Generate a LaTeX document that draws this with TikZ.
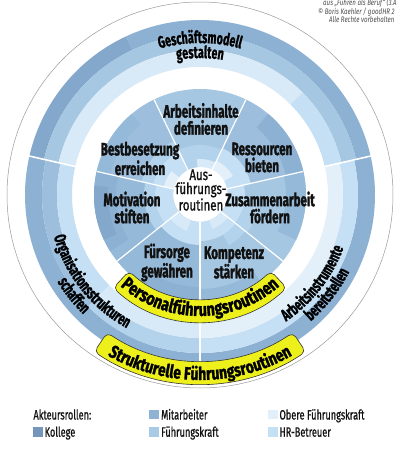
\documentclass[tikz,border=0pt]{standalone}
\usepackage{fontspec}
\setmainfont{Fira Sans}
\newfontfamily\cfb{Fira Sans}[FakeStretch=0.645,FakeBold=1.6]
\newfontfamily\cfn{Fira Sans}[FakeStretch=0.635,FakeBold=1.3]
\newfontfamily\cfw{Fira Sans}[FakeStretch=0.78,FakeBold=1.6]
\newfontfamily\cfl{Fira Sans}[FakeStretch=0.68,FakeBold=0.8]
\newfontfamily\cfc{Fira Sans}[FakeStretch=0.74,FakeBold=1.0]
\newfontfamily\cfi{Fira Sans}[FakeStretch=0.77]
\usetikzlibrary{decorations.text}
\definecolor{kol}{HTML}{7496BC}
\definecolor{mit}{HTML}{90B3D3}
\definecolor{fk}{HTML}{A8CBE5}
\definecolor{ofk}{HTML}{E0EFFA}
\definecolor{hr}{HTML}{C4E0F5}
\definecolor{dA}{HTML}{84A8CC}
\definecolor{dB}{HTML}{8DB1D3}
\definecolor{dC}{HTML}{95B9D8}
\definecolor{dD}{HTML}{9DBFDD}
\definecolor{dE}{HTML}{A5C7E2}
\definecolor{dF}{HTML}{B3D2EB}
\definecolor{dG}{HTML}{C5E0F4}
\definecolor{dH}{HTML}{D8EAF8}
\definecolor{dI}{HTML}{E3F0FA}
\definecolor{ylw}{HTML}{EEF01C}
\definecolor{txt}{HTML}{111111}
\newcommand\ringseg[5]{\fill[#5] (#3:#2pt) arc[start angle=#3,end angle=#4,radius=#2pt] -- (#4:#1pt) arc[start angle=#4,end angle=#3,radius=#1pt] -- cycle;}
\newcommand\lblfont{\cfb\bfseries\fontsize{18}{17}\selectfont}
\newcommand\bandfont{\cfn\bfseries\fontsize{16.8}{16.8}\selectfont}
\newcommand\yfont{\cfw\bfseries\fontsize{18.5}{18.5}\selectfont}
\newcommand\yfontb{\cfw\bfseries\fontsize{17.8}{17.8}\selectfont}
\newcommand\legfont{\cfl\fontsize{13.5}{13.5}\selectfont}
\newcommand\ctrfont{\cfc\fontsize{15.5}{14}\selectfont}
\newcommand\cpfont{\cfi\itshape\fontsize{8}{8}\selectfont}
\newcommand\arctext[5]{\path[decorate,decoration={text along path,text align=center,text={|#4|#5}}] (#2:#1pt) arc[start angle=#2,end angle=#3,radius=#1pt];}
\tikzset{
  lbl/.style={align=center,inner sep=0pt,text=txt,font=\lblfont},
  sq/.style={minimum width=10pt,minimum height=9.4pt,inner sep=0pt,draw=none},
  leg/.style={anchor=base west,inner sep=0pt,text=txt,font=\legfont},
  cpy/.style={anchor=base west,inner sep=0pt,text=black!70,font=\cpfont},
  divin/.style={white,line width=1.2pt},
  divout/.style={white,line width=1.6pt},
  ylabel/.style={fill=ylw,draw=black!80,line width=0.6pt,rounded corners=5pt}
}
\begin{document}
\begin{tikzpicture}[x=1pt,y=1pt]
\useasboundingbox (-200,-255) rectangle (200,195);
\fill[white] (-200,-255) rectangle (200,195);
% outer thin circle
\draw[black!40,line width=0.5pt] (0,0) circle[radius=193pt];
% ---- outer band: top sector
\ringseg{160}{175}{12.86}{115}{dB}
\ringseg{160}{175}{115}{167.14}{dA}
\ringseg{145}{160}{12.86}{167.14}{dE}
\ringseg{128}{145}{45}{167.14}{dH}
\ringseg{128}{145}{12.86}{45}{dG}
% left sector
\ringseg{158}{175}{167.14}{270}{dB}
\ringseg{143}{158}{167.14}{225}{dD}
\ringseg{143}{158}{225}{270}{dF}
\ringseg{128}{143}{167.14}{225}{dG}
\ringseg{128}{143}{225}{270}{dH}
% right sector
\ringseg{158}{175}{270}{372.86}{dB}
\ringseg{143}{158}{270}{372.86}{dG}
\ringseg{128}{143}{270}{372.86}{dI}
% ---- inner disc
% s0 Kompetenz
\ringseg{27}{106}{270}{321.43}{dE}
\ringseg{27}{46}{270}{321.43}{dG}
\ringseg{27}{36}{290}{321.43}{dH}
\ringseg{46}{58}{300}{321.43}{dF}
\ringseg{94}{106}{270}{305}{dC}
% s1 Zusammenarbeit
\ringseg{27}{106}{321.43}{372.86}{dE}
\ringseg{86}{106}{335}{372.86}{dC}
\ringseg{27}{45}{321.43}{372.86}{dG}
\ringseg{45}{60}{321.43}{350}{dF}
% s2 Ressourcen
\ringseg{27}{106}{12.86}{64.29}{dD}
\ringseg{88}{106}{12.86}{50}{dB}
\ringseg{27}{52}{12.86}{64.29}{dG}
\ringseg{27}{38}{30}{64.29}{dI}
% s3 Arbeitsinhalte
\ringseg{27}{106}{64.29}{115.71}{dE}
\ringseg{27}{50}{64.29}{115.71}{dF}
\ringseg{27}{36}{64.29}{95}{dH}
% s4 Bestbesetzung
\ringseg{27}{106}{115.71}{167.14}{dD}
\ringseg{92}{106}{130}{167.14}{dC}
\ringseg{48}{60}{115.71}{167.14}{dF}
\ringseg{27}{48}{115.71}{167.14}{dG}
\ringseg{27}{37}{140}{167.14}{dI}
% s5 Motivation
\ringseg{27}{106}{167.14}{218.57}{dC}
\ringseg{84}{106}{167.14}{212}{dB}
\ringseg{92}{106}{175}{205}{dA}
\ringseg{45}{56}{167.14}{218.57}{dF}
\ringseg{27}{45}{167.14}{218.57}{dG}
% s6 Fuersorge
\ringseg{27}{106}{218.57}{270}{dC}
\ringseg{92}{106}{235}{270}{dB}
\ringseg{27}{50}{218.57}{270}{dG}
\ringseg{27}{38}{218.57}{250}{dH}
% dividers
\foreach \a in {270,321.43,12.86,64.29,115.71,167.14,218.57}
  \draw[divin] (\a:27pt) -- (\a:106pt);
\foreach \a in {12.86,167.14,270}
  \draw[divout] (\a:127pt) -- (\a:176pt);
% centre circle
\node[circle,fill=white,minimum size=54pt,inner sep=0pt] (ctr) at (0.5,1) {};
\node[align=center,inner sep=0pt,text=txt,font=\ctrfont] (ctrtxt) at (1,5) {Aus-\\führungs-\\routinen};
% yellow labels
\path[ylabel] (227:127pt) arc[start angle=227,end angle=313,radius=127pt] -- (313:104pt) arc[start angle=313,end angle=227,radius=104pt] -- cycle;
\path[ylabel] (236:189pt) arc[start angle=236,end angle=304,radius=189pt] -- (304:166pt) arc[start angle=304,end angle=236,radius=166pt] -- cycle;
\arctext{121}{215}{325}{\yfont}{Personalführungsroutinen}
\arctext{185}{225}{315}{\yfontb}{Strukturelle Führungsroutinen}
% band texts
\arctext{152}{140}{40}{\bandfont}{Geschäftsmodell}
\arctext{137}{140}{40}{\bandfont}{gestalten}
\arctext{152}{173.5}{263.5}{\bandfont}{Organisationsstrukturen}
\arctext{167}{173.5}{263.5}{\bandfont}{schaffen}
\arctext{153}{277}{367}{\bandfont}{Arbeitsinstrumente}
\arctext{168}{277}{367}{\bandfont}{bereitstellen}
% sector labels
\node[lbl] (arb) at (1,76) {Arbeitsinhalte\\definieren};
\node[lbl] (best) at (-60,36.5) {Bestbesetzung\\erreichen};
\node[lbl] (res) at (62,37.5) {Ressourcen\\bieten};
\node[lbl] (mot) at (-68,-12.5) {Motivation\\stiften};
\node[lbl] (zus) at (70,-12.5) {Zusammenarbeit\\fördern};
\node[lbl] (fur) at (-33,-67.5) {Fürsorge\\gewähren};
\node[lbl] (komp) at (34,-67.5) {Kompetenz\\stärken};
% copyright
\node[cpy] (cp1) at (123,189) {aus „Führen als Beruf“ (3.A};
\node[cpy] (cp2) at (118,180.5) {© Boris Kaehler / goodHR 2};
\node[cpy] (cp3) at (129,172.5) {Alle Rechte vorbehalten};
% legend
\node[leg] (akt) at (-166.7,-224.5) {Akteursrollen:};
\node[sq,fill=kol] (kolsq) at (-161.7,-237) {};
\node[leg] (koltx) at (-155.5,-241.7) {Kollege};
\node[sq,fill=mit] (mitsq) at (-46,-219.65) {};
\node[leg] (mittx) at (-39,-224.5) {Mitarbeiter};
\node[sq,fill=fk] (fksq) at (-46,-237) {};
\node[leg] (fktx) at (-39,-241.7) {Führungskraft};
\node[sq,fill=ofk] (ofksq) at (73,-219.65) {};
\node[leg] (ofktx) at (79.3,-224.5) {Obere Führungskraft};
\node[sq,fill=hr] (hrsq) at (73,-237) {};
\node[leg] (hrtx) at (79.3,-241.7) {HR-Betreuer};
\end{tikzpicture}
\end{document}
